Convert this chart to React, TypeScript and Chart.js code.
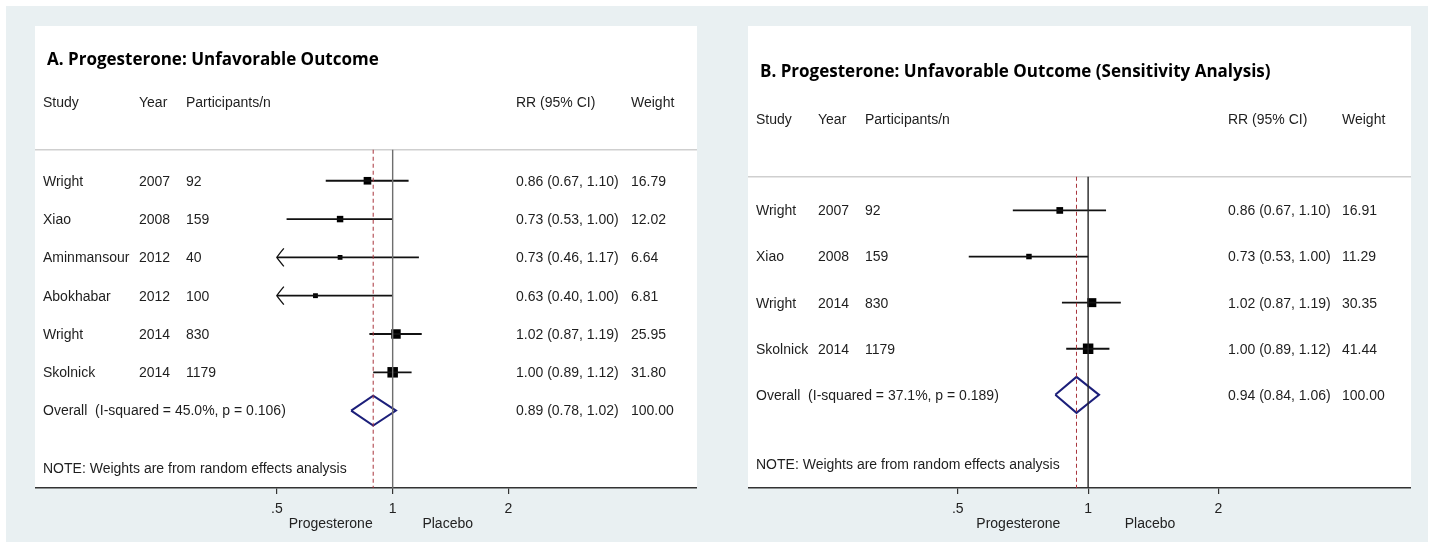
import React, { useEffect, useRef } from 'react';
import { Chart, registerables } from 'chart.js';

Chart.register(...registerables);

// ---------- Data: panel A ----------
const A_TITLE = 'A. Progesterone: Unfavorable Outcome';
const A_STUDIES = ['Wright', 'Xiao', 'Aminmansour', 'Abokhabar', 'Wright', 'Skolnick'];
const A_YEARS = ['2007', '2008', '2012', '2012', '2014', '2014'];
const A_PARTICIPANTS = ['92', '159', '40', '100', '830', '1179'];
const A_RR = [0.86, 0.73, 0.73, 0.63, 1.02, 1.0];
const A_LOW = [0.67, 0.53, 0.46, 0.4, 0.87, 0.89];
const A_HIGH = [1.1, 1.0, 1.17, 1.0, 1.19, 1.12];
const A_WEIGHT = [16.79, 12.02, 6.64, 6.81, 25.95, 31.8];
const A_OVERALL = [0.89, 0.78, 1.02]; // estimate, low, high
const A_OVERALL_LABEL = 'Overall  (I-squared = 45.0%, p = 0.106)';

// ---------- Data: panel B ----------
const B_TITLE = 'B. Progesterone: Unfavorable Outcome (Sensitivity Analysis)';
const B_STUDIES = ['Wright', 'Xiao', 'Wright', 'Skolnick'];
const B_YEARS = ['2007', '2008', '2014', '2014'];
const B_PARTICIPANTS = ['92', '159', '830', '1179'];
const B_RR = [0.86, 0.73, 1.02, 1.0];
const B_LOW = [0.67, 0.53, 0.87, 0.89];
const B_HIGH = [1.1, 1.0, 1.19, 1.12];
const B_WEIGHT = [16.91, 11.29, 30.35, 41.44];
const B_OVERALL = [0.94, 0.84, 1.06];
const B_OVERALL_LABEL = 'Overall  (I-squared = 37.1%, p = 0.189)';

// ---------- Shared labels ----------
const HEADERS = ['Study', 'Year', 'Participants/n', 'RR (95% CI)', 'Weight'];
const OVERALL_WEIGHT = '100.00';
const NOTE = 'NOTE: Weights are from random effects analysis';
const X_TICKS = [0.5, 1, 2];
const X_TICK_LABELS = ['.5', '1', '2'];
const FAVOURS = ['Progesterone', 'Placebo'];

// ---------- Layout / style (not data) ----------
const CANVAS_H = 516;
const AXIS_H = 54;
const FAVOURS_AT = [0.69, 1.39];
const BOX_MAX = 10.5;
const FONT = '"Liberation Sans", Arial, sans-serif';
const TITLE_FONT = 'bold 17px "Open Sans", "Noto Sans", sans-serif';
const TEXT_COLOR = '#1e1e1e';
const TEXT_DY = 1;

const LAYOUT_A = {
  left: 35, top: 26, width: 662,
  xMin: 0.1176, xMax: 6.18,
  yMin: -4.04, sepRow: -0.81, titleRow: -3.18, headerRow: -2.04,
  cols: [8, 104, 151, 481, 596],
  refColor: '#6e6e6e',
};
const LAYOUT_B = {
  left: 748, top: 26, width: 663,
  xMin: 0.1638, xMax: 5.57,
  yMin: -4.0, sepRow: -0.73, titleRow: -3.03, headerRow: -1.97,
  cols: [8, 70, 117, 480, 594],
  refColor: '#262626',
};

const PANEL_A = {
  title: A_TITLE, studies: A_STUDIES, years: A_YEARS, n: A_PARTICIPANTS,
  rr: A_RR, low: A_LOW, high: A_HIGH, weight: A_WEIGHT,
  overall: A_OVERALL, overallLabel: A_OVERALL_LABEL,
};
const PANEL_B = {
  title: B_TITLE, studies: B_STUDIES, years: B_YEARS, n: B_PARTICIPANTS,
  rr: B_RR, low: B_LOW, high: B_HIGH, weight: B_WEIGHT,
  overall: B_OVERALL, overallLabel: B_OVERALL_LABEL,
};

const fmt = (v: number) => v.toFixed(2);

function buildConfig(p: any, L: any) {
  const k = p.studies.length;
  const yMax = k + 2.02;
  const clipMin = X_TICKS[0];
  const maxW = Math.max(...p.weight);
  const [est, oLo, oHi] = p.overall;
  const dh = 0.39;

  const datasets: any[] = [];
  datasets.push({
    data: [{ x: 1, y: L.sepRow }, { x: 1, y: yMax }],
    showLine: true, borderColor: L.refColor, borderWidth: 1.4, pointRadius: 0,
  });
  datasets.push({
    data: [{ x: est, y: L.sepRow }, { x: est, y: yMax }],
    showLine: true, borderColor: '#a8343c', borderWidth: 1, borderDash: [4, 3], pointRadius: 0,
  });
  p.studies.forEach((_: string, i: number) => {
    datasets.push({
      data: [{ x: Math.max(p.low[i], clipMin), y: i }, { x: p.high[i], y: i }],
      showLine: true, borderColor: '#111', borderWidth: 1.8, pointRadius: 0,
    });
  });
  datasets.push({
    data: p.rr.map((v: number, i: number) => ({ x: v, y: i })),
    showLine: false,
    pointStyle: 'rect',
    pointRadius: p.weight.map((w: number) => (BOX_MAX * Math.sqrt(w / maxW)) / (2 * Math.SQRT1_2)),
    pointBackgroundColor: '#000', pointBorderColor: '#000', pointBorderWidth: 0,
  });
  datasets.push({
    data: [
      { x: oLo, y: k }, { x: est, y: k - dh }, { x: oHi, y: k }, { x: est, y: k + dh }, { x: oLo, y: k },
    ],
    showLine: true, borderColor: '#1c1f7a', borderWidth: 2, pointRadius: 0, tension: 0,
  });

  const plugin = {
    id: 'forestText',
    beforeDraw(chart: any) {
      const { ctx, chartArea: a } = chart;
      const y = chart.scales.y;
      ctx.save();
      ctx.fillStyle = '#ffffff';
      ctx.fillRect(a.left, a.top, a.right - a.left, a.bottom - a.top);
      const ys = y.getPixelForValue(L.sepRow);
      ctx.strokeStyle = '#cfcfcf';
      ctx.lineWidth = 1.5;
      ctx.beginPath();
      ctx.moveTo(a.left, ys);
      ctx.lineTo(a.right, ys);
      ctx.stroke();
      ctx.restore();
    },
    afterDatasetsDraw(chart: any) {
      const { ctx } = chart;
      const x = chart.scales.x;
      const y = chart.scales.y;
      ctx.save();
      ctx.strokeStyle = '#111';
      ctx.lineWidth = 1.3;
      p.low.forEach((lo: number, i: number) => {
        if (lo < clipMin) {
          const px = x.getPixelForValue(clipMin);
          const py = y.getPixelForValue(i);
          ctx.beginPath();
          ctx.moveTo(px + 7, py - 9);
          ctx.quadraticCurveTo(px + 2, py - 3, px, py);
          ctx.quadraticCurveTo(px + 2, py + 3, px + 7, py + 9);
          ctx.stroke();
        }
      });
      ctx.restore();
    },
    afterDraw(chart: any) {
      const { ctx, chartArea: a } = chart;
      const x = chart.scales.x;
      const y = chart.scales.y;
      const c = L.cols.map((v: number) => a.left + v);
      const row = (r: number) => y.getPixelForValue(r) + TEXT_DY;
      ctx.save();
      ctx.textBaseline = 'middle';
      ctx.textAlign = 'left';
      ctx.fillStyle = '#000';
      ctx.font = TITLE_FONT;
      ctx.fillText(p.title, a.left + 12, row(L.titleRow));
      ctx.fillStyle = TEXT_COLOR;
      ctx.font = `14px ${FONT}`;
      const hy = row(L.headerRow);
      HEADERS.forEach((h, j) => ctx.fillText(h, c[j], hy));
      p.studies.forEach((s: string, i: number) => {
        const py = row(i);
        ctx.fillText(s, c[0], py);
        ctx.fillText(p.years[i], c[1], py);
        ctx.fillText(p.n[i], c[2], py);
        ctx.fillText(`${fmt(p.rr[i])} (${fmt(p.low[i])}, ${fmt(p.high[i])})`, c[3], py);
        ctx.fillText(fmt(p.weight[i]), c[4], py);
      });
      const k2 = p.studies.length;
      const oy = row(k2);
      ctx.fillText(p.overallLabel, c[0], oy);
      ctx.fillText(`${fmt(est)} (${fmt(oLo)}, ${fmt(oHi)})`, c[3], oy);
      ctx.fillText(OVERALL_WEIGHT, c[4], oy);
      ctx.fillText(NOTE, c[0], row(k2 + 1.5));
      ctx.textAlign = 'center';
      ctx.fillStyle = '#222';
      FAVOURS.forEach((f, j) => ctx.fillText(f, x.getPixelForValue(FAVOURS_AT[j]), a.bottom + 36));
      ctx.restore();
    },
  };

  return {
    type: 'scatter' as const,
    data: { datasets },
    plugins: [plugin],
    options: {
      animation: false,
      responsive: false,
      events: [],
      layout: { padding: 0, autoPadding: false },
      plugins: { legend: { display: false }, tooltip: { enabled: false } },
      scales: {
        x: {
          type: 'logarithmic',
          position: 'bottom',
          min: L.xMin,
          max: L.xMax,
          afterBuildTicks: (scale: any) => {
            scale.ticks = X_TICKS.map((v) => ({ value: v }));
          },
          afterFit: (scale: any) => {
            scale.height = AXIS_H;
          },
          ticks: {
            autoSkip: false,
            maxRotation: 0,
            padding: 7,
            color: '#222',
            font: { family: FONT, size: 14 },
            callback: (_v: any, i: number) => X_TICK_LABELS[i],
          },
          grid: { drawOnChartArea: false, drawTicks: true, tickLength: 6, color: '#333', lineWidth: 1.2 },
          border: { display: true, color: '#333', width: 1.5 },
        },
        y: {
          type: 'linear',
          reverse: true,
          min: L.yMin,
          max: yMax,
          display: false,
        },
      },
    },
  };
}

function ForestPanel({ panel, layout }: { panel: any; layout: any }) {
  const ref = useRef<HTMLCanvasElement>(null);
  useEffect(() => {
    if (!ref.current) return;
    const chart = new Chart(ref.current, buildConfig(panel, layout) as any);
    return () => chart.destroy();
  }, [panel, layout]);
  return (
    <canvas
      ref={ref}
      width={layout.width}
      height={CANVAS_H}
      style={{ position: 'absolute', left: layout.left, top: layout.top, width: layout.width, height: CANVAS_H }}
    />
  );
}

export default function App() {
  return (
    <div style={{ position: 'absolute', left: 0, top: 0, width: 1434, height: 548, background: '#ffffff' }}>
      <div style={{ position: 'absolute', left: 6, top: 6, width: 1422, height: 536, background: '#e9f0f2' }} />
      <ForestPanel panel={PANEL_A} layout={LAYOUT_A} />
      <ForestPanel panel={PANEL_B} layout={LAYOUT_B} />
    </div>
  );
}
